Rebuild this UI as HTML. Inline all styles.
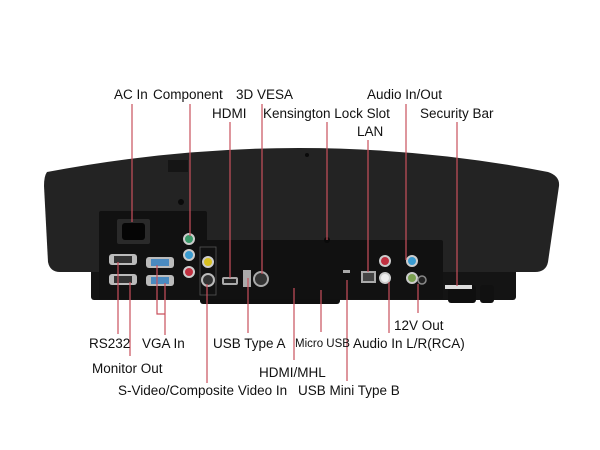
<!DOCTYPE html>
<html><head><meta charset="utf-8"><style>
html,body{margin:0;padding:0;background:#fff;width:600px;height:450px;overflow:hidden}
svg text{font-family:"Liberation Sans",sans-serif;font-size:13.5px;fill:#111}
</style></head><body>
<svg width="600" height="450" viewBox="0 0 600 450" xmlns="http://www.w3.org/2000/svg">
<rect x="91" y="265" width="425" height="35" rx="3" fill="#141414"/>
<rect x="200" y="290" width="140" height="14" rx="3" fill="#101010"/>
<rect x="448" y="285" width="28" height="18" rx="3" fill="#0f0f0f"/>
<rect x="480" y="285" width="14" height="18" rx="3" fill="#111"/>
<rect x="445" y="285" width="27" height="4" fill="#ddd"/>
<path d="M47 172 Q300 124 548 172 Q560 176 559 186 L548 262 Q546 272 535 272 L60 272 Q50 272 48 262 L44 186 Q44 176 47 172 Z" fill="#232323"/>
<rect x="99" y="211" width="108" height="88" rx="2" fill="#111"/>
<rect x="205" y="240" width="238" height="59" rx="2" fill="#111"/>
<rect x="168" y="160" width="20" height="12" fill="#151515"/>
<circle cx="181" cy="202" r="3" fill="#0a0a0a"/>
<circle cx="307" cy="155" r="2" fill="#0a0a0a"/>
<circle cx="327" cy="240" r="3" fill="#0a0a0a"/>
<rect x="117" y="219" width="33" height="25" rx="2" fill="#2a2a2a"/>
<rect x="122" y="223" width="23" height="17" rx="3" fill="#050505"/>
<circle cx="189" cy="239" r="5" fill="#3a9a6a" stroke="#ccc" stroke-width="2"/>
<circle cx="189" cy="255" r="5" fill="#3a9bd0" stroke="#ccc" stroke-width="2"/>
<circle cx="189" cy="272" r="5" fill="#c03040" stroke="#ccc" stroke-width="2"/>
<rect x="109" y="254" width="28" height="11" rx="3" fill="#bbb"/><rect x="114" y="256" width="18" height="7" fill="#333"/>
<rect x="109" y="274" width="28" height="11" rx="3" fill="#bbb"/><rect x="114" y="276" width="18" height="7" fill="#333"/>
<rect x="146" y="257" width="28" height="11" rx="3" fill="#bbb"/><rect x="151" y="259" width="18" height="7" fill="#4a8ac0"/>
<rect x="146" y="275" width="28" height="11" rx="3" fill="#bbb"/><rect x="151" y="277" width="18" height="7" fill="#4a8ac0"/>
<rect x="200" y="247" width="16" height="48" fill="none" stroke="#555" stroke-width="0.8"/>
<circle cx="208" cy="262" r="5" fill="#d8c020" stroke="#ccc" stroke-width="2"/>
<circle cx="208" cy="280" r="6" fill="#333" stroke="#bbb" stroke-width="2"/>
<rect x="222" y="277" width="16" height="8" rx="2" fill="#aaa"/><rect x="224" y="279" width="12" height="4" fill="#222"/>
<rect x="243" y="270" width="8" height="17" fill="#aaa"/>
<circle cx="261" cy="279" r="7" fill="#333" stroke="#aaa" stroke-width="2"/>
<rect x="343" y="270" width="7" height="3" fill="#aaa"/>
<rect x="361" y="271" width="15" height="12" fill="#aaa"/><rect x="363" y="273" width="11" height="8" fill="#444"/>
<circle cx="385" cy="261" r="5" fill="#c03040" stroke="#ccc" stroke-width="2"/>
<circle cx="385" cy="278" r="5" fill="#eee" stroke="#ccc" stroke-width="2"/>
<circle cx="412" cy="261" r="5" fill="#3a9bd0" stroke="#ccc" stroke-width="2"/>
<circle cx="412" cy="278" r="5" fill="#7aa050" stroke="#ccc" stroke-width="2"/>
<circle cx="422" cy="280" r="4" fill="#222" stroke="#888" stroke-width="1.5"/>
<g stroke="#c9505c" stroke-width="1.2" fill="none">
<path d="M132 104V222"/><path d="M190 104V236"/><path d="M230 122V278"/><path d="M262 104V274"/>
<path d="M327 122V240"/><path d="M368 140V272"/><path d="M406 104V260"/><path d="M457 122V286"/>
<path d="M118 262V334"/><path d="M130 282V356"/><path d="M157 265V314H165M165 283V335"/>
<path d="M207 284V383"/><path d="M248 278V333"/><path d="M294 288V360"/><path d="M321 290V332"/>
<path d="M347 280V381"/><path d="M389 282V333"/><path d="M418 284V313"/>
</g>
<text x="114" y="99">AC In</text>
<text x="153" y="99">Component</text>
<text x="236" y="99">3D VESA</text>
<text x="367" y="99">Audio In/Out</text>
<text x="212" y="118">HDMI</text>
<text x="263" y="118">Kensington Lock Slot</text>
<text x="420" y="118">Security Bar</text>
<text x="357" y="136">LAN</text>
<text x="394" y="330">12V Out</text>
<text x="89" y="348">RS232</text>
<text x="142" y="348">VGA In</text>
<text x="213" y="348">USB Type A</text>
<text x="295" y="347" style="font-size:11.5px">Micro USB</text>
<text x="353" y="348">Audio In L/R(RCA)</text>
<text x="92" y="373">Monitor Out</text>
<text x="259" y="377">HDMI/MHL</text>
<text x="118" y="395">S-Video/Composite Video In</text>
<text x="298" y="395">USB Mini Type B</text>
</svg>
</body></html>
